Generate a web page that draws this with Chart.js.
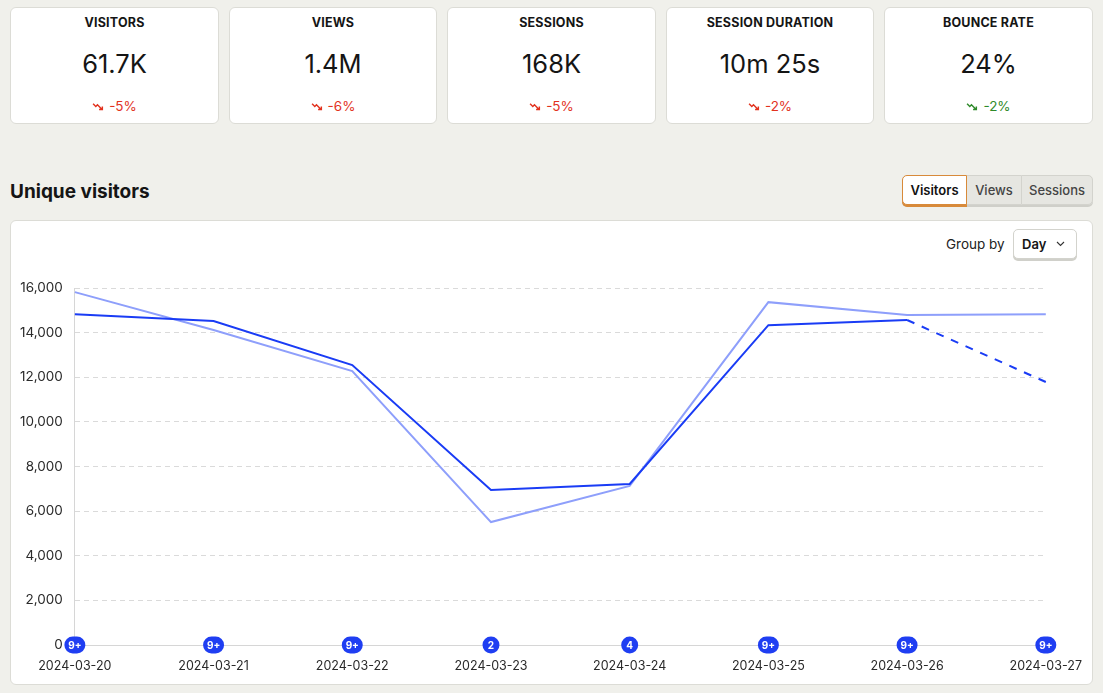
<!DOCTYPE html>
<html>
<head>
<meta charset="utf-8">
<script src="https://cdn.jsdelivr.net/npm/chart.js@4"></script>
<style>
  html,body{margin:0;padding:0;}
  body{width:1103px;height:693px;background:#f0f0eb;font-family:Inter,"Noto Sans",sans-serif;color:#151515;position:relative;overflow:hidden;}
  .card{position:absolute;top:7px;height:117px;background:#fff;border:1px solid #dcdcd6;border-radius:6px;box-sizing:border-box;text-align:center;}
  .card .lbl{position:absolute;top:7px;left:0;right:0;font-size:12.5px;font-weight:700;letter-spacing:0.2px;}
  .card .val{position:absolute;top:40px;left:0;right:0;font-size:25.5px;font-weight:400;}
  .card .chg{position:absolute;top:90px;left:0;right:0;font-size:13.5px;}
  .red{color:#e2321e;} .green{color:#2f8a2a;}
  .chg svg{vertical-align:-1px;margin-right:5px;}
  h2{position:absolute;left:10px;top:180px;margin:0;font-size:19px;font-weight:700;}
  .tabs{position:absolute;left:902px;top:175px;height:30px;display:flex;border-radius:5px;background:#e6e6e1;box-shadow:0 2px 0 #cfcfc9;}
  .tab{font-size:13px;font-weight:500;color:#444;padding:0;text-align:center;box-sizing:border-box;height:30px;line-height:28px;border:1px solid #d3d3cd;}
  .tab.first{width:65px;background:#fff;color:#111;font-weight:600;border:1px solid #d88a3a;border-radius:5px 0 0 5px;box-shadow:0 2px 0 #d88a3a;}
  .tab.mid{width:54px;border-left:none;border-right:none;}
  .tab.last{width:72px;border-radius:0 5px 5px 0;}
  .panel{position:absolute;left:10px;top:220px;width:1083px;height:465px;background:#fff;border:1px solid #dcdcd6;border-radius:6px;box-sizing:border-box;}
  .groupby{position:absolute;left:946px;top:236px;font-size:13.5px;color:#222;}
  .dd{position:absolute;left:1013px;top:229px;width:64px;height:30px;box-sizing:border-box;border:1px solid #d3d3cd;border-radius:5px;background:#fff;box-shadow:0 2px 0 #d0d0ca;font-size:13px;font-weight:600;line-height:28px;padding-left:8px;}
  .dd svg{position:absolute;right:11px;top:11px;}
  #wrap{position:absolute;left:8px;top:268px;width:1082px;height:414px;}
</style>
</head>
<body>
<div class="card" style="left:10px;width:209px"><div class="lbl">VISITORS</div><div class="val">61.7K</div><div class="chg red"><svg width="12" height="10" viewBox="0 0 11 9"><path d="M1 1.5 L3.5 4 L5 2.5 L9 6.5 M6.5 6.8 H9.5 V4" fill="none" stroke="#e2321e" stroke-width="1.3"/></svg>-5%</div></div>
<div class="card" style="left:229px;width:208px"><div class="lbl">VIEWS</div><div class="val">1.4M</div><div class="chg red"><svg width="12" height="10" viewBox="0 0 11 9"><path d="M1 1.5 L3.5 4 L5 2.5 L9 6.5 M6.5 6.8 H9.5 V4" fill="none" stroke="#e2321e" stroke-width="1.3"/></svg>-6%</div></div>
<div class="card" style="left:447px;width:209px"><div class="lbl">SESSIONS</div><div class="val">168K</div><div class="chg red"><svg width="12" height="10" viewBox="0 0 11 9"><path d="M1 1.5 L3.5 4 L5 2.5 L9 6.5 M6.5 6.8 H9.5 V4" fill="none" stroke="#e2321e" stroke-width="1.3"/></svg>-5%</div></div>
<div class="card" style="left:666px;width:208px"><div class="lbl">SESSION DURATION</div><div class="val">10m 25s</div><div class="chg red"><svg width="12" height="10" viewBox="0 0 11 9"><path d="M1 1.5 L3.5 4 L5 2.5 L9 6.5 M6.5 6.8 H9.5 V4" fill="none" stroke="#e2321e" stroke-width="1.3"/></svg>-2%</div></div>
<div class="card" style="left:884px;width:209px"><div class="lbl">BOUNCE RATE</div><div class="val">24%</div><div class="chg green"><svg width="12" height="10" viewBox="0 0 11 9"><path d="M1 1.5 L3.5 4 L5 2.5 L9 6.5 M6.5 6.8 H9.5 V4" fill="none" stroke="#2f8a2a" stroke-width="1.3"/></svg>-2%</div></div>

<h2>Unique visitors</h2>
<div class="tabs"><div class="tab first">Visitors</div><div class="tab mid">Views</div><div class="tab last">Sessions</div></div>

<div class="panel"></div>
<div class="groupby">Group by</div>
<div class="dd">Day<svg width="9" height="6" viewBox="0 0 9 6"><path d="M1 1 L4.5 4.5 L8 1" fill="none" stroke="#333" stroke-width="1.1"/></svg></div>
<div id="wrap"><canvas id="c"></canvas></div>

<script>
const categories = ["2024-03-20","2024-03-21","2024-03-22","2024-03-23","2024-03-24","2024-03-25","2024-03-26","2024-03-27"];
const currentVisitors = [14830, 14520, 12550, 6950, 7220, 14340, 14570, 11790];
const previousVisitors = [15820, 14120, 12280, 5510, 7130, 15370, 14790, 14830];
const annotationCounts = ["9+","9+","9+","2","4","9+","9+","9+"];
const yTicks = [0,2000,4000,6000,8000,10000,12000,14000,16000];

const badgePlugin = {
  id:'badges',
  afterDatasetsDraw(chart){
    const ctx = chart.ctx, xs = chart.scales.x, ys = chart.scales.y;
    const y = ys.getPixelForValue(0);
    ctx.save();
    annotationCounts.forEach((t,i)=>{
      const x = xs.getPixelForValue(i);
      ctx.beginPath();
      const w = t.length>1 ? 4 : 0;
      ctx.fillStyle = '#1f3ef2';
      ctx.arc(x - w/2, y, 8.5, Math.PI/2, Math.PI*1.5);
      ctx.arc(x + w/2, y, 8.5, Math.PI*1.5, Math.PI/2);
      ctx.closePath();
      ctx.fill();
      ctx.fillStyle = '#fff';
      ctx.font = 'bold 10px Inter, sans-serif';
      ctx.textAlign='center'; ctx.textBaseline='middle';
      ctx.fillText(t, x, y+0.5);
    });
    ctx.restore();
  }
};

new Chart(document.getElementById('c'), {
  type:'line',
  data:{
    labels:categories,
    datasets:[
      {label:'Current', data:currentVisitors, borderColor:'#1a3cf5', borderWidth:2, pointRadius:0, tension:0,
       segment:{borderDash: c => c.p1DataIndex === categories.length-1 ? [8,8] : undefined}},
      {label:'Previous', data:previousVisitors, borderColor:'#8e9ffb', borderWidth:2, pointRadius:0, tension:0}
    ]
  },
  options:{
    responsive:true, maintainAspectRatio:false, animation:false,
    layout:{padding:{left:0,right:2,top:9,bottom:0}},
    plugins:{legend:{display:false}, tooltip:{enabled:false}},
    scales:{
      x:{
        grid:{display:false, drawTicks:true, tickLength:6, tickColor:'#dcdcdc'},
        border:{display:true, color:'#d6d6d6'},
        ticks:{color:'#2a2a2a', font:{family:'Inter', size:12.5}, maxRotation:0, padding:8, autoSkip:false}
      },
      y:{
        min:0, max:16000,
        afterBuildTicks: s => { s.ticks = yTicks.map(v=>({value:v})); },
        grid:{color:'#dadada', drawTicks:false},
        border:{display:true, color:'#d6d6d6', dash:[5,4]},
        ticks:{color:'#2a2a2a', font:{family:'Inter', size:13.5}, padding:12, callback:v=>v.toLocaleString('en-US')}
      }
    }
  },
  plugins:[badgePlugin]
});
</script>
</body>
</html>
